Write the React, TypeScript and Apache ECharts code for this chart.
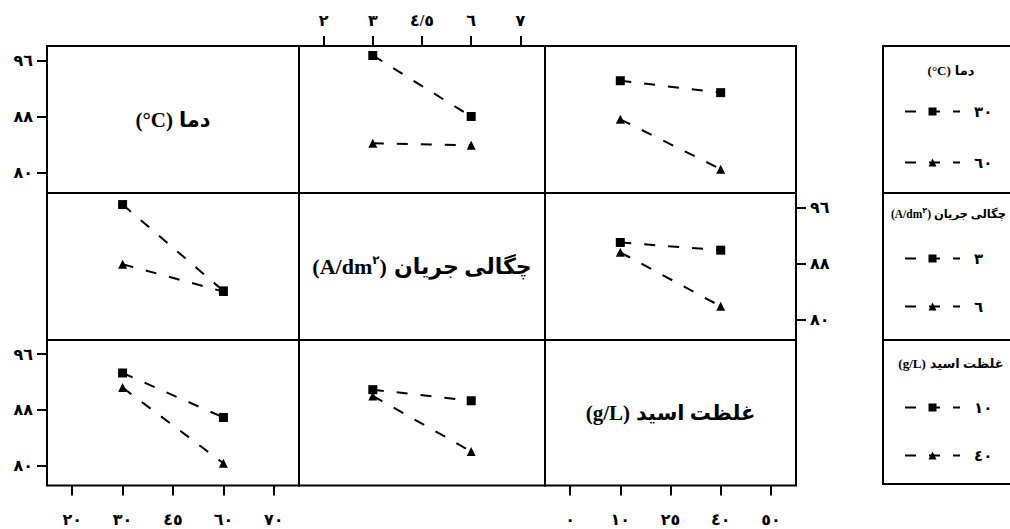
import { useEffect, useRef } from 'react';
import * as echarts from 'echarts';

// ---- tick labels / categories ----
const tempTicks = ['٢٠', '٣٠', '٤٥', '٦٠', '٧٠'];
const cdTicks = ['٢', '٣', '٤/٥', '٦', '٧'];
const acidTicks = ['٠', '١٠', '٢٥', '٤٠', '٥٠'];
const tempLevels = ['٣٠', '٦٠'];
const cdLevels = ['٣', '٦'];
const acidLevels = ['١٠', '٤٠'];
const yTickValues = [80, 88, 96];
const yTickLabels = ['٨٠', '٨٨', '٩٦'];

// ---- factor titles (latin part, superscript, arabic part) ----
const tempTitleParts = ['(°C)', '', 'دما'];
const cdTitleParts = ['(A/dm', '٢', ')', 'چگالی جریان'];
const acidTitleParts = ['(g/L)', '', 'غلظت اسید'];

// ---- means (response) ----
const tempByCd_30 = [96.7, 88.0];
const tempByCd_60 = [84.2, 83.9];
const tempByAcid_30 = [93.1, 91.4];
const tempByAcid_60 = [87.6, 80.5];
const cdByTemp_3 = [96.4, 84.1];
const cdByTemp_6 = [87.9, 84.0];
const cdByAcid_3 = [91.0, 89.9];
const cdByAcid_6 = [89.6, 81.9];
const acidByTemp_10 = [93.3, 86.9];
const acidByTemp_40 = [91.2, 80.3];
const acidByCd_10 = [90.9, 89.3];
const acidByCd_40 = [90.0, 82.0];

const FONT = "'Liberation Serif', 'DejaVu Sans', serif";
const colEdges = [47, 299, 545, 796];
const rowEdges = [46, 193, 340, 485.5];
const Y_MIN = 77.1;
const Y_MAX = 98.05;

function titleRich(parts: string[], size: number, supSize: number) {
  let text = `{a|${parts[0]}}`;
  if (parts.length === 4) {
    text += `{s|${parts[1]}}{a|${parts[2]}}{g|${parts[3]}}`;
  } else {
    text += `{g|${parts[2]}}`;
  }
  return {
    text,
    rich: {
      a: { fontSize: size, fontWeight: 'bold', fontFamily: FONT, fill: '#000', lineHeight: size + 4 },
      s: { fontSize: supSize, fontWeight: 'bold', fontFamily: FONT, fill: '#000', verticalAlign: 'top', lineHeight: size + 4 },
      g: { fontSize: size, fontWeight: 'bold', fontFamily: FONT, fill: '#000', lineHeight: size + 4, padding: [0, 0, 0, Math.round(size * 0.3)] },
    },
  };
}

export default function App() {
  const ref = useRef<HTMLDivElement>(null);

  useEffect(() => {
    if (!ref.current) return;
    const chart = echarts.init(ref.current, undefined, { renderer: 'svg' });

    const levelsByFactor = [tempLevels, cdLevels, acidLevels];
    const ticksByFactor = [tempTicks, cdTicks, acidTicks];
    const titlesByFactor = [tempTitleParts, cdTitleParts, acidTitleParts];
    const panelValues: Record<string, number[][]> = {
      '0-1': [tempByCd_30, tempByCd_60],
      '0-2': [tempByAcid_30, tempByAcid_60],
      '1-0': [cdByTemp_3, cdByTemp_6],
      '1-2': [cdByAcid_3, cdByAcid_6],
      '2-0': [acidByTemp_10, acidByTemp_40],
      '2-1': [acidByCd_10, acidByCd_40],
    };

    const grids: any[] = [];
    const xAxes: any[] = [];
    const yAxes: any[] = [];
    const series: any[] = [];

    for (let r = 0; r < 3; r++) {
      for (let c = 0; c < 3; c++) {
        const i = r * 3 + c;
        grids.push({
          left: colEdges[c],
          top: rowEdges[r],
          width: colEdges[c + 1] - colEdges[c],
          height: rowEdges[r + 1] - rowEdges[r],
          show: true,
          borderColor: '#000',
          borderWidth: 2,
          backgroundColor: 'transparent',
          containLabel: false,
        });
        const showX = (r === 0 && c === 1) || (r === 2 && c !== 1);
        xAxes.push({
          gridIndex: i,
          type: 'category',
          data: ticksByFactor[c],
          boundaryGap: true,
          show: showX,
          position: c === 1 ? 'top' : 'bottom',
          axisLine: { show: false },
          axisTick: {
            show: true,
            alignWithLabel: true,
            interval: 0,
            length: 10,
            lineStyle: { color: '#000', width: 2 },
          },
          axisLabel: {
            interval: 0,
            margin: c === 1 ? 18 : 26,
            color: '#000',
            fontSize: 16,
            fontWeight: 'bold',
            fontFamily: FONT,
          },
          splitLine: { show: false },
        });
        const showY = (r === 0 && c === 0) || (r === 1 && c === 2) || (r === 2 && c === 0);
        yAxes.push({
          gridIndex: i,
          type: 'value',
          min: Y_MIN,
          max: Y_MAX,
          show: showY,
          position: c === 2 ? 'right' : 'left',
          axisLine: { show: false },
          axisTick: {
            show: true,
            customValues: yTickValues,
            length: 10,
            lineStyle: { color: '#000', width: 2 },
          },
          axisLabel: {
            customValues: yTickValues,
            formatter: (v: number) => yTickLabels[yTickValues.indexOf(v)] ?? '',
            margin: 14,
            color: '#000',
            fontSize: 16,
            fontWeight: 'bold',
            fontFamily: FONT,
          },
          splitLine: { show: false },
        });
        if (r !== c) {
          const vals = panelValues[`${r}-${c}`];
          levelsByFactor[r].forEach((lvl, k) => {
            series.push({
              name: lvl,
              type: 'line',
              xAxisIndex: i,
              yAxisIndex: i,
              data: levelsByFactor[c].map((cat, j) => [cat, vals[k][j]]),
              symbol: k === 0 ? 'rect' : 'triangle',
              symbolSize: 9,
              itemStyle: { color: '#000' },
              lineStyle: { color: '#000', width: 2, type: [11, 13] },
              silent: true,
            });
          });
        }
      }
    }

    const legendTops = [99, 246, 395];
    const legendGaps = [36, 33, 33];
    const legends = [0, 1, 2].map((r) => ({
      data: levelsByFactor[r],
      orient: 'vertical',
      left: 899,
      top: legendTops[r],
      itemWidth: 55,
      itemHeight: 10,
      itemGap: legendGaps[r],
      selectedMode: false,
      textStyle: {
        fontSize: 15,
        fontWeight: 'bold',
        color: '#000',
        fontFamily: FONT,
        padding: [0, 0, 0, 9],
      },
    }));

    const cx = (c: number) => (colEdges[c] + colEdges[c + 1]) / 2;
    const cy = (r: number) => (rowEdges[r] + rowEdges[r + 1]) / 2;
    const baseStyle = { fill: '#000', align: 'center', verticalAlign: 'middle' };

    const legendBoxTops = [46, 193, 340];
    const legendBoxBottoms = [193, 340, 484];
    const legendTitleY = [70, 214, 363];
    const legendTitleX = [951, 1006, 951];
    const legendTitleAlign = ['center', 'right', 'center'];
    const legendTitleSize = [13, 11.5, 13];

    const graphics: any[] = [
      ...[0, 1, 2].map((k) => ({
        type: 'text',
        x: cx(k),
        y: cy(k),
        style: { ...baseStyle, ...titleRich(titlesByFactor[k], k === 1 ? 22 : 21, 12) },
      })),
      ...legendBoxTops.map((t, k) => ({
        type: 'rect',
        shape: { x: 883, y: t, width: 150, height: legendBoxBottoms[k] - t },
        style: { fill: 'none', stroke: '#000', lineWidth: 2 },
      })),
      ...[0, 1, 2].map((k) => ({
        type: 'text',
        x: legendTitleX[k],
        y: legendTitleY[k],
        style: {
          ...baseStyle,
          align: legendTitleAlign[k],
          ...titleRich(titlesByFactor[k], legendTitleSize[k], 8),
        },
      })),
    ];

    chart.setOption({
      animation: false,
      backgroundColor: '#fff',
      textStyle: { fontFamily: FONT },
      grid: grids,
      xAxis: xAxes,
      yAxis: yAxes,
      series,
      legend: legends,
      graphic: graphics,
    });

    return () => chart.dispose();
  }, []);

  return (
    <div
      ref={ref}
      style={{ position: 'fixed', left: 0, top: 0, width: 1010, height: 529, background: '#fff' }}
    />
  );
}
